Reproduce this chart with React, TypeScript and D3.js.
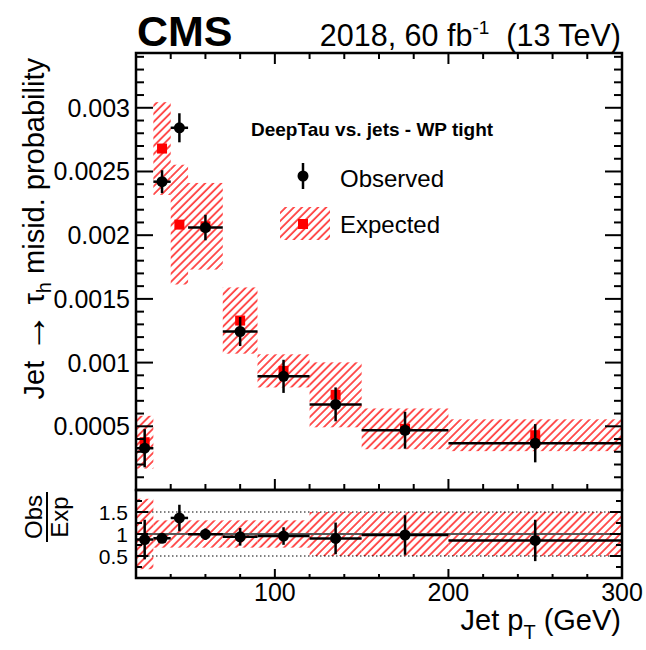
import React from "react";
import * as d3 from "d3";

// Jet pT bins (GeV)
const binLo = [20, 30, 40, 50, 70, 90, 120, 150, 200];
const binHi = [30, 40, 50, 70, 90, 120, 150, 200, 300];
// Jet -> tau_h misidentification probability
const observed = [0.000328, 0.00242, 0.002843, 0.00206, 0.001244, 0.000892, 0.000672, 0.000469, 0.000367];
const observedErr = [0.00015, 0.00009, 0.000114, 0.0001, 0.000114, 0.00013, 0.000133, 0.000145, 0.00015];
const expected = [0.000375, 0.00268, 0.002083, 0.00207, 0.00133, 0.000935, 0.000747, 0.00048, 0.00043];
const expectedErr = [0.000207, 0.000364, 0.00047, 0.00034, 0.00026, 0.00013, 0.000255, 0.00016, 0.000125];
// Obs/Exp panel: uncertainties on the ratio points and the expected band
const ratioErr = [0.45, 0.06, 0.3, 0.13, 0.2, 0.2, 0.36, 0.45, 0.47];
const ratioBand = [0.8, 0.31, 0.31, 0.31, 0.31, 0.31, 0.5, 0.5, 0.5];

const yTickLabels = ["0.0005", "0.001", "0.0015", "0.002", "0.0025", "0.003"];
const xTickLabels = ["100", "200", "300"];
const ratioTickLabels = ["0.5", "1", "1.5"];

const FONT = "'Liberation Sans', Arial, Helvetica, sans-serif";
const RED = "#ff2a2a";

const L = 136, R = 622, T = 53, MB = 490, RB = 578;

export default function App() {
  const x = d3.scaleLinear().domain([20, 300]).range([L, R]);
  const y = d3.scaleLinear().domain([0, 0.00343]).range([MB, T]);
  const yr = d3.scaleLinear().domain([0, 2]).range([RB, MB]);

  const bins = binLo.map((lo, i) => ({
    lo,
    hi: binHi[i],
    c: (lo + binHi[i]) / 2,
    obs: observed[i],
    obsErr: observedErr[i],
    exp: expected[i],
    expErr: expectedErr[i],
    ratio: observed[i] / expected[i],
    ratioErr: ratioErr[i],
    band: ratioBand[i],
  }));

  const xMinor = d3.range(20, 301, 20);
  const yMinor = d3.range(0.0001, 0.00343, 0.0001);
  const rMinor = d3.range(0.25, 2, 0.25);

  const frame = { fill: "none", stroke: "#000", strokeWidth: 2.5 };
  const tick = { stroke: "#000", strokeWidth: 2 };
  const bar = { stroke: "#000", strokeWidth: 2.5 };

  return (
    <svg width={646} height={650} style={{ position: "absolute", left: 0, top: 0, background: "#fff" }} fontFamily={FONT}>
      <defs>
        <pattern id="hatch" patternUnits="userSpaceOnUse" width={5.7} height={5.7} patternTransform="rotate(45)">
          <line x1={1} y1={0} x2={1} y2={5.7} stroke={RED} strokeWidth={1.6} />
        </pattern>
        <clipPath id="mainClip"><rect x={L} y={T} width={R - L} height={MB - T} /></clipPath>
        <clipPath id="ratioClip"><rect x={L} y={MB} width={R - L} height={RB - MB} /></clipPath>
      </defs>

      {/* ---------- main panel ---------- */}
      <g clipPath="url(#mainClip)">
        {bins.map((b, i) => (
          <rect key={"hb" + i} x={x(b.lo)} width={x(b.hi) - x(b.lo)}
            y={y(b.exp + b.expErr)} height={y(b.exp - b.expErr) - y(b.exp + b.expErr)} fill="url(#hatch)" />
        ))}
        {bins.map((b, i) => (
          <rect key={"es" + i} x={x(b.c) - 5} y={y(b.exp) - 5} width={10} height={10} fill="#ff0000" />
        ))}
        {bins.map((b, i) => (
          <g key={"ob" + i}>
            <line x1={x(b.lo)} x2={x(b.hi)} y1={y(b.obs)} y2={y(b.obs)} {...bar} />
            <line x1={x(b.c)} x2={x(b.c)} y1={y(b.obs - b.obsErr)} y2={y(b.obs + b.obsErr)} {...bar} />
            <circle cx={x(b.c)} cy={y(b.obs)} r={5.5} fill="#000" />
          </g>
        ))}
      </g>

      {/* main panel ticks */}
      {yMinor.map((v, i) => {
        const major = Math.abs(v / 0.0005 - Math.round(v / 0.0005)) < 1e-6;
        const len = major ? 17 : 8;
        return (
          <g key={"ym" + i}>
            <line x1={L} x2={L + len} y1={y(v)} y2={y(v)} {...tick} />
            <line x1={R} x2={R - len} y1={y(v)} y2={y(v)} {...tick} />
          </g>
        );
      })}
      {xMinor.map((v, i) => {
        const major = v % 100 === 0;
        const len = major ? 11 : 6;
        return (
          <g key={"xm" + i}>
            <line x1={x(v)} x2={x(v)} y1={MB} y2={MB - len} {...tick} />
            <line x1={x(v)} x2={x(v)} y1={T} y2={T + len} {...tick} />
          </g>
        );
      })}
      {yTickLabels.map((t) => (
        <text key={t} x={130} y={y(+t)} dy="0.36em" textAnchor="end" fontSize={25}>{t}</text>
      ))}
      <rect x={L} y={T} width={R - L} height={MB - T} {...frame} />

      {/* ---------- ratio panel ---------- */}
      <g clipPath="url(#ratioClip)">
        {bins.map((b, i) => (
          <rect key={"rb" + i} x={x(b.lo)} width={x(b.hi) - x(b.lo)}
            y={yr(1 + b.band)} height={yr(1 - b.band) - yr(1 + b.band)} fill="url(#hatch)" />
        ))}
        <line x1={L} x2={R} y1={yr(0.5)} y2={yr(0.5)} stroke="#000" strokeWidth={1} strokeDasharray="1.5,2.5" />
        <line x1={L} x2={R} y1={yr(1.5)} y2={yr(1.5)} stroke="#000" strokeWidth={1} strokeDasharray="1.5,2.5" />
        <line x1={L} x2={R} y1={yr(1)} y2={yr(1)} stroke="#555" strokeWidth={2} />
        {bins.map((b, i) => (
          <g key={"rp" + i}>
            <line x1={x(b.lo)} x2={x(b.hi)} y1={yr(b.ratio)} y2={yr(b.ratio)} {...bar} />
            <line x1={x(b.c)} x2={x(b.c)} y1={yr(b.ratio - b.ratioErr)} y2={yr(b.ratio + b.ratioErr)} {...bar} />
            <circle cx={x(b.c)} cy={yr(b.ratio)} r={5.5} fill="#000" />
          </g>
        ))}
      </g>
      {rMinor.map((v, i) => {
        const major = Math.abs(v * 2 - Math.round(v * 2)) < 1e-6;
        const len = major ? 12 : 6;
        return (
          <g key={"rm" + i}>
            <line x1={L} x2={L + len} y1={yr(v)} y2={yr(v)} {...tick} />
            <line x1={R} x2={R - len} y1={yr(v)} y2={yr(v)} {...tick} />
          </g>
        );
      })}
      {xMinor.map((v, i) => {
        const major = v % 100 === 0;
        const len = major ? 9 : 4;
        return <line key={"rx" + i} x1={x(v)} x2={x(v)} y1={RB} y2={RB - len} {...tick} />;
      })}
      {ratioTickLabels.map((t) => (
        <text key={t} x={128} y={yr(+t)} dy="0.36em" textAnchor="end" fontSize={21}>{t}</text>
      ))}
      {xTickLabels.map((t) => (
        <text key={t} x={x(+t)} y={601} textAnchor="middle" fontSize={25}>{t}</text>
      ))}
      <rect x={L} y={MB} width={R - L} height={RB - MB} {...frame} />

      {/* ---------- titles ---------- */}
      <text x={137} y={46} fontSize={43} fontWeight="bold">CMS</text>
      <text x={621} y={46} fontSize={30.5} textAnchor="end">
        2018, 60 fb<tspan fontSize={19} dy={-12}>-1</tspan>
        <tspan dy={12}>{"\u00a0\u00a0(13 TeV)"}</tspan>
      </text>

      <text transform="translate(44,58) rotate(-90)" textAnchor="end" fontSize={29}>
        Jet{"\u00a0"}<tspan fontSize={40} dy={2}>{"\u2192"}</tspan>
        <tspan dy={-2}>{"\u00a0\u03c4"}</tspan><tspan fontSize={20} dy={7}>h</tspan>
        <tspan dy={-7}> misid. probability</tspan>
      </text>

      <g transform="translate(0,517) rotate(-90)">
        <text x={0} y={42} textAnchor="middle" fontSize={24}>Obs</text>
        <line x1={-25} x2={25} y1={47} y2={47} stroke="#000" strokeWidth={2} />
        <text x={0} y={68} textAnchor="middle" fontSize={24}>Exp</text>
      </g>

      <text x={621} y={630} textAnchor="end" fontSize={29}>
        Jet p<tspan fontSize={20} dy={9}>T</tspan>
        <tspan dy={-9}>{"\u00a0(GeV)"}</tspan>
      </text>

      {/* ---------- legend ---------- */}
      <text x={251} y={136} fontSize={19} fontWeight="bold">DeepTau vs. jets - WP tight</text>
      <line x1={303} x2={303} y1={163} y2={189} {...bar} />
      <circle cx={303} cy={176} r={5.5} fill="#000" />
      <text x={340} y={187} fontSize={24}>Observed</text>
      <rect x={280} y={207} width={50} height={33} fill="url(#hatch)" />
      <rect x={298} y={219} width={10} height={10} fill="#ff0000" />
      <text x={340} y={233} fontSize={24}>Expected</text>
    </svg>
  );
}
